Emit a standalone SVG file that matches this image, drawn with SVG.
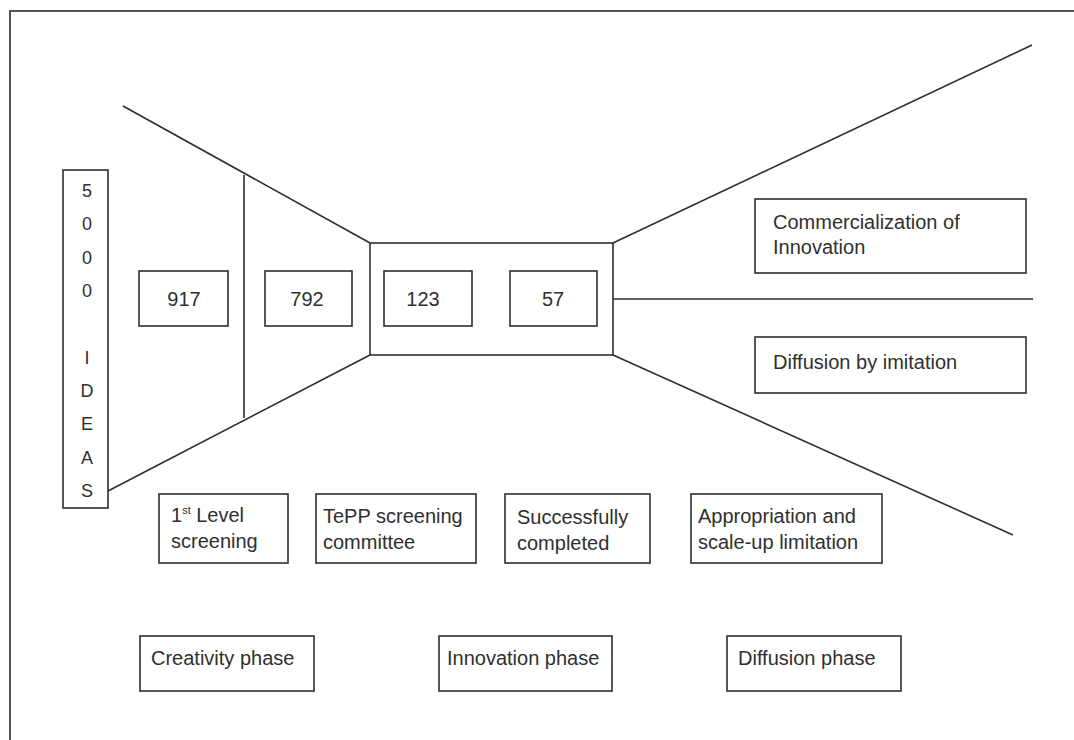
<svg xmlns="http://www.w3.org/2000/svg" width="1074" height="740" viewBox="0 0 1074 740">
<style>
  .ln { stroke:#2e2e2e; stroke-width:1.6; fill:none; }
  .bx { stroke:#2e2e2e; stroke-width:1.6; fill:#ffffff; }
  .t { font-family:"Liberation Sans", Arial, sans-serif; font-size:20px; fill:#2f2f2f; }
  .tc { text-anchor:middle; }
  .v { font-family:"Liberation Sans", Arial, sans-serif; font-size:18px; fill:#2f2f2f; text-anchor:middle; }
</style>
<rect x="0" y="0" width="1074" height="740" fill="#ffffff"/>
<rect x="10" y="11" width="1090" height="760" fill="none" stroke="#555555" stroke-width="2"/>

<g id="connectors">
  <line class="ln" x1="123" y1="106" x2="370" y2="243"/>
  <line class="ln" x1="244" y1="175" x2="244" y2="418"/>
  <line class="ln" x1="108" y1="491" x2="370" y2="355"/>
  <rect class="ln" x="370" y="243" width="243" height="112"/>
  <line class="ln" x1="613" y1="243" x2="1032" y2="45"/>
  <line class="ln" x1="613" y1="299" x2="1033" y2="299" stroke="#555555"/>
  <line class="ln" x1="613" y1="355" x2="1013" y2="535"/>
</g>

<g id="ideas">
  <rect class="bx" x="63" y="170" width="45" height="338"/>
  <text class="v" x="87" y="197">5</text>
  <text class="v" x="87" y="230">0</text>
  <text class="v" x="87" y="264">0</text>
  <text class="v" x="87" y="297">0</text>
  <text class="v" x="87" y="364">I</text>
  <text class="v" x="87" y="397">D</text>
  <text class="v" x="87" y="430">E</text>
  <text class="v" x="87" y="464">A</text>
  <text class="v" x="87" y="497">S</text>
</g>

<g id="n917">
  <rect class="bx" x="139" y="271" width="89" height="55"/>
  <text class="t tc" x="184" y="306">917</text>
</g>
<g id="n792">
  <rect class="bx" x="265" y="271" width="87" height="55"/>
  <text class="t tc" x="307" y="306">792</text>
</g>
<g id="n123">
  <rect class="bx" x="384" y="271" width="88" height="55"/>
  <text class="t tc" x="423" y="306">123</text>
</g>
<g id="n57">
  <rect class="bx" x="510" y="271" width="87" height="55"/>
  <text class="t tc" x="553" y="306">57</text>
</g>

<g id="commercialization">
  <rect class="bx" x="755" y="199" width="271" height="74"/>
  <text class="t" x="773" y="229">Commercialization of</text>
  <text class="t" x="773" y="254">Innovation</text>
</g>
<g id="diffusion-imitation">
  <rect class="bx" x="755" y="337" width="271" height="56"/>
  <text class="t" x="773" y="369">Diffusion by imitation</text>
</g>

<g id="first-level">
  <rect class="bx" x="159" y="494" width="129" height="69"/>
  <text class="t" x="171" y="522">1<tspan font-size="11" dy="-8">st</tspan><tspan dy="8"> Level</tspan></text>
  <text class="t" x="171" y="548">screening</text>
</g>
<g id="tepp">
  <rect class="bx" x="316" y="494" width="160" height="69"/>
  <text class="t" x="323" y="523">TePP screening</text>
  <text class="t" x="323" y="549">committee</text>
</g>
<g id="successfully">
  <rect class="bx" x="505" y="494" width="145" height="69"/>
  <text class="t" x="517" y="524">Successfully</text>
  <text class="t" x="517" y="550">completed</text>
</g>
<g id="appropriation">
  <rect class="bx" x="691" y="494" width="191" height="69"/>
  <text class="t" x="698" y="523">Appropriation and</text>
  <text class="t" x="698" y="549">scale-up limitation</text>
</g>

<g id="creativity-phase">
  <rect class="bx" x="140" y="636" width="174" height="55"/>
  <text class="t" x="151" y="665">Creativity phase</text>
</g>
<g id="innovation-phase">
  <rect class="bx" x="439" y="636" width="173" height="55"/>
  <text class="t" x="447" y="665">Innovation phase</text>
</g>
<g id="diffusion-phase">
  <rect class="bx" x="727" y="636" width="174" height="55"/>
  <text class="t" x="738" y="665">Diffusion phase</text>
</g>
</svg>
